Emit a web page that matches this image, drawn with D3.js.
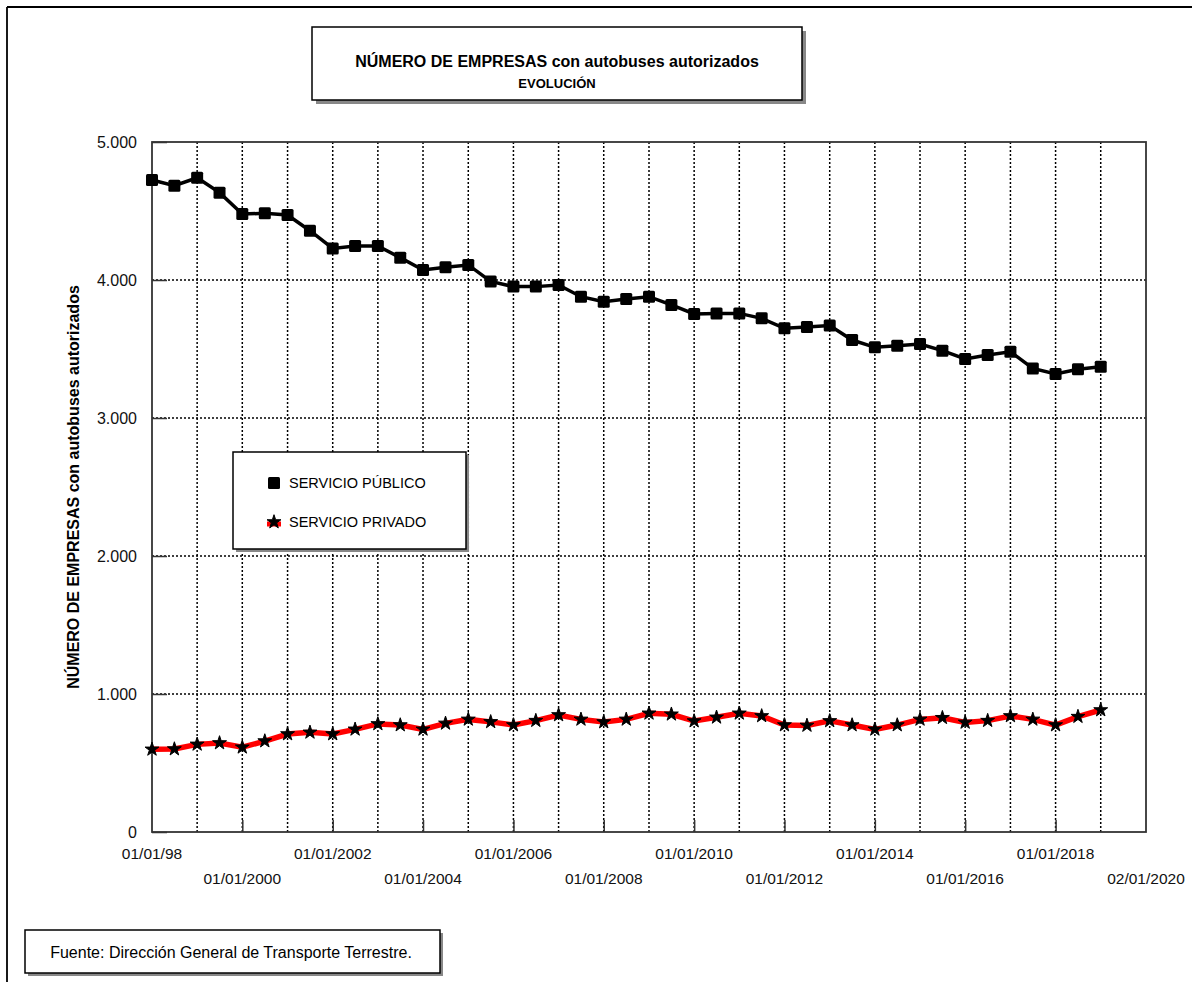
<!DOCTYPE html>
<html>
<head>
<meta charset="utf-8">
<script src="https://cdn.jsdelivr.net/npm/d3@7"></script>
<style>
  body { margin: 0; background: #fff; }
  svg { font-family: "Liberation Sans", Arial, sans-serif; display: block; }
</style>
</head>
<body>
<div id="chart"></div>
<script>
// half-yearly observations, 01/01/1998 .. 01/01/2019
const dates = [
  "1998-01-01","1998-07-01","1999-01-01","1999-07-01","2000-01-01","2000-07-01",
  "2001-01-01","2001-07-01","2002-01-01","2002-07-01","2003-01-01","2003-07-01",
  "2004-01-01","2004-07-01","2005-01-01","2005-07-01","2006-01-01","2006-07-01",
  "2007-01-01","2007-07-01","2008-01-01","2008-07-01","2009-01-01","2009-07-01",
  "2010-01-01","2010-07-01","2011-01-01","2011-07-01","2012-01-01","2012-07-01",
  "2013-01-01","2013-07-01","2014-01-01","2014-07-01","2015-01-01","2015-07-01",
  "2016-01-01","2016-07-01","2017-01-01","2017-07-01","2018-01-01","2018-07-01",
  "2019-01-01"
];

const publico = [
  4725, 4683, 4741, 4633, 4478, 4483, 4471, 4357, 4229, 4246, 4246, 4162,
  4072, 4092, 4109, 3990, 3952, 3952, 3964, 3879, 3843, 3862, 3879, 3819,
  3754, 3758, 3758, 3722, 3650, 3660, 3670, 3565, 3512, 3524, 3536, 3488,
  3428, 3457, 3480, 3359, 3319, 3353, 3372
];

const privado = [
  599, 601, 635, 645, 614, 659, 710, 722, 710, 744, 783, 775,
  744, 787, 816, 798, 775, 807, 848, 816, 797, 816, 860, 853,
  804, 831, 860, 841, 775, 772, 805, 775, 744, 775, 816, 828,
  794, 807, 841, 816, 775, 836, 884
];

const yTicks = [0, 1000, 2000, 3000, 4000, 5000];
const xTickDates = ["1998-01-01","2000-01-01","2002-01-01","2004-01-01","2006-01-01",
  "2008-01-01","2010-01-01","2012-01-01","2014-01-01","2016-01-01","2018-01-01","2020-01-02"];
const xTickLabels = ["01/01/98","01/01/2000","01/01/2002","01/01/2004","01/01/2006",
  "01/01/2008","01/01/2010","01/01/2012","01/01/2014","01/01/2016","01/01/2018","02/01/2020"];

const W = 1195, H = 982;
const plot = { left: 152, top: 142, right: 1146, bottom: 832 };
const parse = d3.timeParse("%Y-%m-%d");
const fmtThousands = v => v === 0 ? "0" : d3.format(",")(v).replace(/,/g, ".");

const svg = d3.select("#chart").append("svg")
  .attr("width", W).attr("height", H);

// outer frame (top and left edges)
svg.append("line").attr("x1", 7).attr("y1", 7).attr("x2", 1192).attr("y2", 7)
  .attr("stroke", "#000").attr("stroke-width", 1.8);
svg.append("line").attr("x1", 7).attr("y1", 7).attr("x2", 7).attr("y2", H)
  .attr("stroke", "#000").attr("stroke-width", 1.8);

const x = d3.scaleTime()
  .domain([parse("1998-01-01"), parse("2020-01-02")])
  .range([plot.left, plot.right]);
const y = d3.scaleLinear()
  .domain([0, 5000])
  .range([plot.bottom, plot.top]);

// gridlines
const yearLines = d3.timeYear.range(parse("1999-01-01"), parse("2020-01-01"));
svg.append("g").selectAll("line").data(yearLines).join("line")
  .attr("x1", d => x(d)).attr("x2", d => x(d))
  .attr("y1", plot.top).attr("y2", plot.bottom)
  .attr("stroke", "#000").attr("stroke-width", 1.5).attr("stroke-dasharray", "2,2");
svg.append("g").selectAll("line").data(yTicks.slice(1, -1)).join("line")
  .attr("x1", plot.left).attr("x2", plot.right)
  .attr("y1", d => y(d)).attr("y2", d => y(d))
  .attr("stroke", "#000").attr("stroke-width", 1.5).attr("stroke-dasharray", "2,2");

// plot frame
svg.append("rect")
  .attr("x", plot.left).attr("y", plot.top)
  .attr("width", plot.right - plot.left).attr("height", plot.bottom - plot.top)
  .attr("fill", "none").attr("stroke", "#333").attr("stroke-width", 1.8);

// y axis
const yAxis = svg.append("g")
  .attr("transform", "translate(" + plot.left + ",0)")
  .call(d3.axisRight(y).tickValues(yTicks).tickSize(15).tickFormat(""));
yAxis.select(".domain").remove();
yAxis.selectAll(".tick line").attr("stroke", "#333").attr("stroke-width", 1.5);
svg.append("g").selectAll("text").data(yTicks).join("text")
  .attr("x", 137).attr("y", d => y(d) + 5.5)
  .attr("text-anchor", "end").attr("font-size", 16).attr("fill", "#111")
  .text(fmtThousands);

// x axis
const xAxis = svg.append("g")
  .attr("transform", "translate(0," + plot.bottom + ")")
  .call(d3.axisTop(x).tickValues(xTickDates.slice(1, -1).map(parse)).tickSize(12).tickFormat(""));
xAxis.select(".domain").remove();
xAxis.selectAll(".tick line").attr("stroke", "#333").attr("stroke-width", 1.5);
svg.append("g").selectAll("text").data(xTickDates).join("text")
  .attr("x", d => x(parse(d)))
  .attr("y", (d, i) => i % 2 === 0 ? 859 : 884)
  .attr("text-anchor", "middle").attr("font-size", 15.5).attr("fill", "#111")
  .text((d, i) => xTickLabels[i]);

// y axis title
svg.append("text")
  .attr("transform", "translate(79," + (plot.top + plot.bottom) / 2 + ") rotate(-90)")
  .attr("text-anchor", "middle").attr("font-size", 16).attr("font-weight", "bold")
  .text("NÚMERO DE EMPRESAS con autobuses autorizados");

// series
const pubData = dates.map((d, i) => ({ date: parse(d), value: publico[i] }));
const privData = dates.map((d, i) => ({ date: parse(d), value: privado[i] }));
const line = d3.line().x(d => x(d.date)).y(d => y(d.value));

svg.append("path").datum(pubData)
  .attr("d", line).attr("fill", "none").attr("stroke", "#000").attr("stroke-width", 3.5);
svg.append("g").selectAll("rect").data(pubData).join("rect")
  .attr("x", d => x(d.date) - 6).attr("y", d => y(d.value) - 6)
  .attr("width", 12).attr("height", 12).attr("rx", 1.5).attr("fill", "#000");

svg.append("path").datum(privData)
  .attr("d", line).attr("fill", "none").attr("stroke", "#ff0000").attr("stroke-width", 5.5);
const star = d3.symbol().type(d3.symbolStar).size(60);
svg.append("g").selectAll("path").data(privData).join("path")
  .attr("transform", d => "translate(" + x(d.date) + "," + y(d.value) + ")")
  .attr("d", star).attr("fill", "#000").attr("stroke", "#000").attr("stroke-width", 1);

// boxes with drop shadow
const boxWithShadow = (bx, by, bw, bh, off) => {
  svg.append("rect").attr("x", bx + off).attr("y", by + off).attr("width", bw).attr("height", bh)
    .attr("fill", "#888");
  svg.append("rect").attr("x", bx).attr("y", by).attr("width", bw).attr("height", bh)
    .attr("fill", "#fff").attr("stroke", "#000").attr("stroke-width", 1.5);
};

// title
boxWithShadow(312, 27, 490, 73, 4);
svg.append("text").attr("x", 557).attr("y", 67)
  .attr("text-anchor", "middle").attr("font-size", 16).attr("font-weight", "bold")
  .text("NÚMERO DE EMPRESAS con autobuses autorizados");
svg.append("text").attr("x", 557).attr("y", 88)
  .attr("text-anchor", "middle").attr("font-size", 13).attr("font-weight", "bold")
  .text("EVOLUCIÓN");

// legend
boxWithShadow(233, 452, 233, 97, 3);
svg.append("rect").attr("x", 268).attr("y", 477).attr("width", 12).attr("height", 12)
  .attr("rx", 1.5).attr("fill", "#000");
svg.append("text").attr("x", 289).attr("y", 488).attr("font-size", 14.5).text("SERVICIO PÚBLICO");
svg.append("line").attr("x1", 267).attr("x2", 281).attr("y1", 524).attr("y2", 524)
  .attr("stroke", "#ff0000").attr("stroke-width", 5);
svg.append("path").attr("transform", "translate(274,522)").attr("d", star)
  .attr("fill", "#000").attr("stroke", "#000").attr("stroke-width", 1);
svg.append("text").attr("x", 289).attr("y", 527).attr("font-size", 14.5).text("SERVICIO PRIVADO");

// source note
boxWithShadow(25, 930, 415, 43, 3);
svg.append("text").attr("x", 231).attr("y", 958)
  .attr("text-anchor", "middle").attr("font-size", 16)
  .text("Fuente: Dirección General de Transporte Terrestre.");
</script>
</body>
</html>
